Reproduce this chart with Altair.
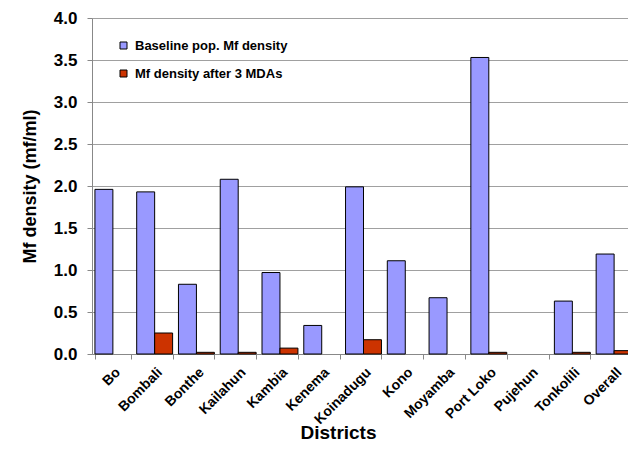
import altair as alt
import pandas as pd

districts = ["Bo", "Bombali", "Bonthe", "Kailahun", "Kambia", "Kenema", "Koinadugu",
             "Kono", "Moyamba", "Port Loko", "Pujehun", "Tonkolili", "Overall"]
baseline = [1.96, 1.93, 0.83, 2.08, 0.97, 0.34, 1.99, 1.11, 0.67, 3.53, 0.0, 0.63, 1.19]
after3 = [0.0, 0.25, 0.02, 0.02, 0.07, 0.0, 0.17, 0.0, 0.0, 0.02, 0.0, 0.02, 0.04]
series = ["Baseline pop. Mf density", "Mf density after 3 MDAs"]
colors = ["#9999FF", "#CC3300"]

rows = []
for d, b, a in zip(districts, baseline, after3):
    rows.append({"District": d, "Series": series[0], "Value": b})
    rows.append({"District": d, "Series": series[1], "Value": a})
df = pd.DataFrame(rows)

FONT = "Liberation Sans"

chart = alt.Chart(df).transform_filter(
    alt.datum.Value > 0
).mark_bar(stroke="black", strokeWidth=1).encode(
    x=alt.X("District:N", title="Districts",
            scale=alt.Scale(domain=districts, range=[0, 543],
                            paddingInner=0.14, paddingOuter=0.07),
            axis=alt.Axis(labelAngle=-45, labelAlign="right", labelBaseline="top",
                          labelFont=FONT, labelFontWeight="bold", labelFontSize=14,
                          labelColor="black", tickBand="extent", tickColor="#888888",
                          domainColor="#888888", tickSize=5, labelPadding=6,
                          titleFont=FONT, titleFontSize=19, titleFontWeight="bold",
                          titleColor="black", titleX=246, titleY=84,
                          titleBaseline="alphabetic")),
    xOffset=alt.XOffset("Series:N", scale=alt.Scale(domain=series, paddingInner=0.0, paddingOuter=0.0)),
    y=alt.Y("Value:Q", title="Mf density (mf/ml)",
            scale=alt.Scale(domain=[0, 4], nice=False),
            axis=alt.Axis(values=[0, 0.5, 1, 1.5, 2, 2.5, 3, 3.5, 4], format=".1f",
                          labelFont=FONT, labelFontWeight="bold", labelFontSize=17,
                          labelColor="black", gridColor="#A0A0A0", tickColor="#888888",
                          domainColor="#888888", tickSize=5, labelPadding=10,
                          titleFont=FONT, titleFontSize=18, titleFontWeight="bold",
                          titleColor="black", titlePadding=14)),
    color=alt.Color("Series:N", scale=alt.Scale(domain=series, range=colors),
                    legend=alt.Legend(title=None, orient="none", legendX=25, legendY=21,
                                      padding=0, symbolType="square", symbolSize=49,
                                      symbolStrokeColor="black", symbolStrokeWidth=1,
                                      labelFont=FONT, labelFontWeight="bold",
                                      labelFontSize=13, labelColor="black",
                                      labelOffset=5, rowPadding=14)),
).properties(
    width=536, height=336,
    autosize=alt.AutoSizeParams(type="none"),
    padding={"left": 84, "top": 10, "right": 0, "bottom": 88},
).configure_view(stroke=None).configure(background="white")

chart.save("out.html", embed_options={"renderer": "svg", "actions": False})
